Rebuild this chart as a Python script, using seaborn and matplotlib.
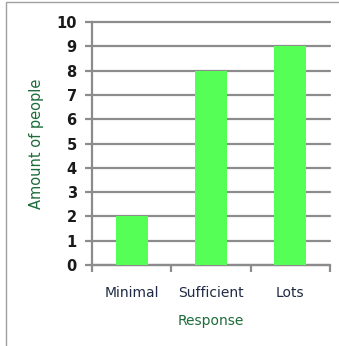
import matplotlib
matplotlib.use("Agg")
import matplotlib.pyplot as plt
from matplotlib.patches import Rectangle
import seaborn as sns
import pandas as pd

responses = ["Minimal", "Sufficient", "Lots"]
people = [2, 8, 9]
y_ticks = list(range(0, 11))

df = pd.DataFrame({"Response": responses, "Amount of people": people})

sns.set_style("white")
plt.rcParams['font.family'] = ['DejaVu Sans']

fig = plt.figure(figsize=(3.39, 3.46), dpi=100)
# chart area border (Excel style)
fig.add_artist(Rectangle((6 / 339, -0.05), 1.2, 1 - 2 / 346 + 0.05,
                         transform=fig.transFigure, fill=False,
                         edgecolor="#a0a0a0", linewidth=1.0))
ax = fig.add_axes([92 / 339, 1 - 265 / 346, 238 / 339, 243 / 346])

sns.barplot(data=df, x="Response", y="Amount of people", color="#55ff55",
            saturation=1, width=0.4, linewidth=0, ax=ax, zorder=3)

ax.set_ylim(0, 10)
ax.set_xlim(-0.5, 2.5)
ax.set_yticks(y_ticks)
ax.yaxis.grid(True, color="#8c8c8c", linewidth=1.6, zorder=0)
for gl in ax.get_ygridlines():
    gl.set_clip_on(False)
ax.set_axisbelow(True)

for s in ["top", "right"]:
    ax.spines[s].set_visible(False)
for s in ["left", "bottom"]:
    ax.spines[s].set_color("#8c8c8c")
    ax.spines[s].set_linewidth(1.6)

ax.tick_params(axis="y", direction="out", length=5, width=1.6, color="#8c8c8c",
               labelsize=10.5, labelcolor="#1a1a1a", pad=6, left=True)
for lbl in ax.get_yticklabels():
    lbl.set_fontweight("semibold")

ax.set_xticks([-0.5, 0.5, 1.5, 2.5], minor=True)
ax.tick_params(axis="x", which="minor", direction="out", length=5, width=1.6,
               color="#8c8c8c", bottom=True)
ax.tick_params(axis="x", which="major", length=0, labelsize=10,
               labelcolor="#1f2a44", pad=15)

ax.set_xlabel("Response", fontsize=10, color="#1d6b3a", labelpad=10)
ax.set_ylabel("Amount of people", fontsize=10.5, color="#1d6b3a", labelpad=9)

fig.savefig("out.png", dpi=100)
